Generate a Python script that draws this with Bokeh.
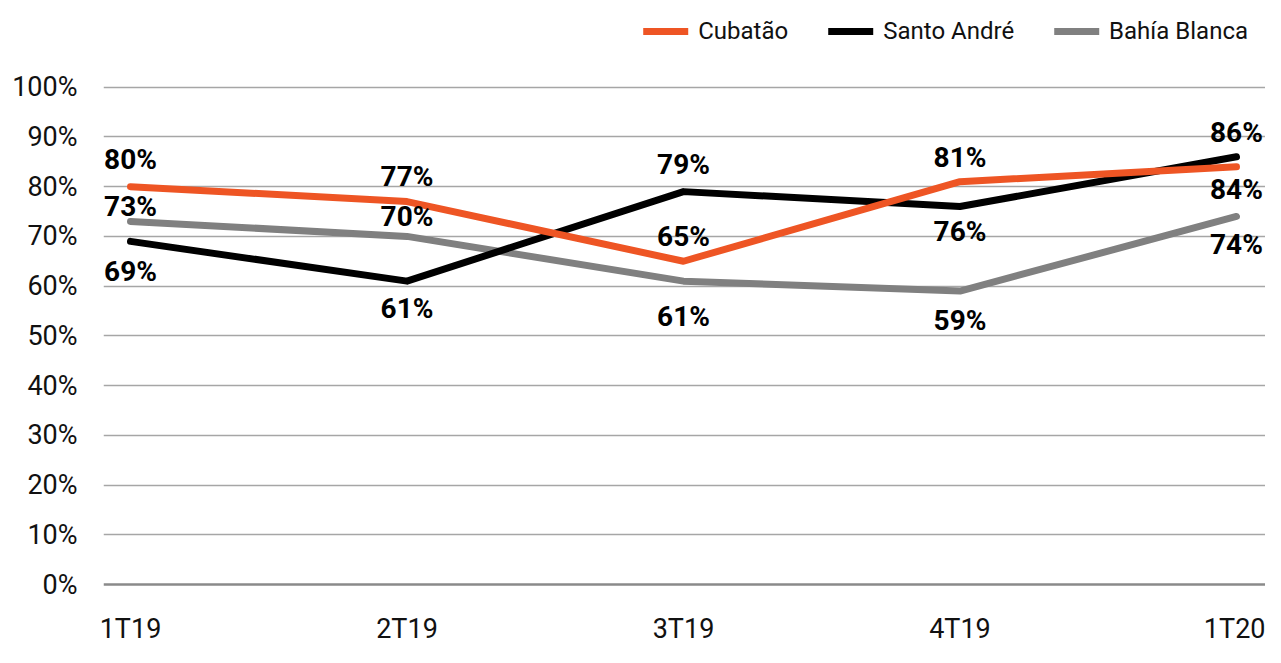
from bokeh.plotting import figure
from bokeh.models import (Range1d, FixedTicker, Span, Legend, LegendItem,
                          ColumnDataSource)
from bokeh.core.properties import value
from bokeh.embed import file_html
from bokeh.resources import INLINE

# ---- data ----
categories = ["1T19", "2T19", "3T19", "4T19", "1T20"]
cubatao = [80, 77, 65, 81, 84]
santo_andre = [69, 61, 79, 76, 86]
bahia_blanca = [73, 70, 61, 59, 74]
y_ticks = [0, 10, 20, 30, 40, 50, 60, 70, 80, 90, 100]

# label placement (screen px offset, positive = down)
off_cubatao = [-27, -25, -25, -24, 23]
off_santo = [30, 27, -27, 25, -24]
off_bahia = [-15, -20, 35, 29, 28]

FONT = "Roboto"
ORANGE = "#EE5524"
BLACK = "#000000"
GRAY = "#808080"

# frame spans full height above the axis; extra y-room on top holds the legend
p = figure(width=1265, height=647, output_backend="svg", toolbar_location=None,
           x_range=Range1d(-0.0977, 4.105), y_range=Range1d(-0.6, 117.43),
           min_border_left=103, min_border_right=0, min_border_top=0,
           min_border_bottom=58)
p.outline_line_color = None
p.background_fill_color = "white"
p.border_fill_color = "white"

xs = list(range(len(categories)))

series = [("Cubatão", cubatao, ORANGE, off_cubatao),
          ("Santo André", santo_andre, BLACK, off_santo),
          ("Bahía Blanca", bahia_blanca, GRAY, off_bahia)]

# zero line
p.add_layout(Span(location=0, dimension="width", line_color="#8a8a8a",
                  line_width=2.5, level="underlay"))

renderers = {}
for name, vals, color, _ in [series[2], series[1], series[0]]:
    r = p.line(xs, vals, line_color=color, line_width=7,
               line_cap="round", line_join="round")
    renderers[name] = r

items = [LegendItem(label=name, renderers=[renderers[name]])
         for name, _, _, _ in series]

# data labels
lx, ly, lt, lo = [], [], [], []
for name, vals, color, offs in series:
    for i, v in enumerate(vals):
        lx.append(i)
        ly.append(v)
        lt.append(f"{v}%")
        lo.append(offs[i])
src = ColumnDataSource(dict(x=lx, y=ly, text=lt, off=lo))
p.text(x="x", y="y", text="text", y_offset="off", source=src,
       text_font=value(FONT), text_font_style="bold", text_font_size="28px",
       text_align="center", text_baseline="middle", text_color="#000000")

# axes
p.xaxis.ticker = FixedTicker(ticks=xs)
p.xaxis.major_label_overrides = {i: c for i, c in enumerate(categories)}
p.yaxis.ticker = FixedTicker(ticks=y_ticks)
p.yaxis.major_label_overrides = {t: f"{t}%" for t in y_ticks}
for ax in (p.xaxis[0], p.yaxis[0]):
    ax.axis_line_color = None
    ax.major_tick_line_color = None
    ax.minor_tick_line_color = None
    ax.major_label_text_font = FONT
    ax.major_label_text_font_size = "27px"
    ax.major_label_text_color = "#111111"
p.xaxis.major_label_standoff = 19
p.yaxis.major_label_standoff = 20
p.yaxis.major_label_text_baseline = "alphabetic"

p.xgrid.grid_line_color = None
p.ygrid.grid_line_color = "#a6a6a6"
p.ygrid.grid_line_width = 1.3
p.ygrid.ticker = FixedTicker(ticks=y_ticks[1:])

legend = Legend(items=items, orientation="horizontal",
                location="top_right",
                label_text_font=FONT, label_text_font_size="24px",
                label_text_color="#111111",
                glyph_width=45, glyph_height=20, label_standoff=10,
                spacing=40, padding=0, margin=17,
                border_line_color=None, background_fill_alpha=0)
p.add_layout(legend, "center")

open("out.html", "w").write(file_html(p, INLINE))
